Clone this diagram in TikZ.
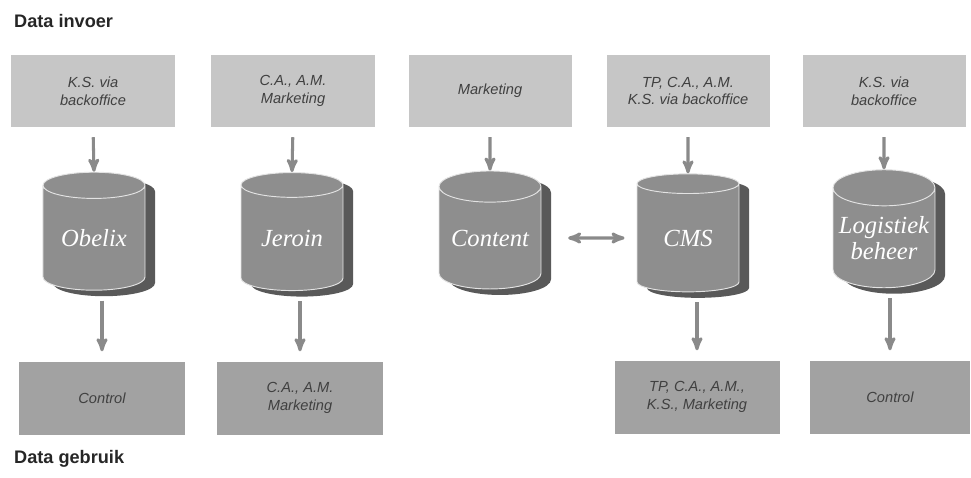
\documentclass[tikz,border=0pt]{standalone}
\usepackage{fontspec}
\setmainfont{Liberation Serif}
\setsansfont{Liberation Sans}
\usetikzlibrary{shapes.geometric}
\usetikzlibrary{shadows}
\usetikzlibrary{arrows}
\usetikzlibrary{calc}

\definecolor{inbox}{HTML}{C6C6C6}
\definecolor{outbox}{HTML}{A2A2A2}
\definecolor{dbgray}{HTML}{8E8E8E}
\definecolor{flowgray}{HTML}{8A8A8A}

\tikzset{
    source/.style={rectangle,fill=inbox,minimum width=4.89cm,minimum height=2.16cm,
        align=center,font=\sffamily\itshape\fontsize{12.5}{15}\selectfont,text=black!75},
    target/.style={rectangle,fill=outbox,minimum width=4.95cm,minimum height=2.19cm,
        align=center,font=\sffamily\itshape\fontsize{12.5}{15}\selectfont,text=black!75},
    store/.style={cylinder,shape border rotate=90,aspect=0.4,inner sep=0pt,
        minimum width=3.06cm,minimum height=3.54cm,
        fill=dbgray,draw=white!75!dbgray,line width=0.8pt,
        drop shadow={shadow xshift=0.3cm,shadow yshift=-0.18cm,opacity=1,fill=black!65},
        align=center,font=\itshape\fontsize{21}{22}\selectfont,text=white},
    flow/.style={->,>=stealth',line width=2.6pt,draw=flowgray},
    heading/.style={anchor=west,font=\sffamily\bfseries\fontsize{15.5}{18}\selectfont,text=black!85}
}

\begin{document}
\begin{tikzpicture}[x=0.03cm,y=-0.03cm]
    \useasboundingbox (0,0) rectangle (971,478);

    \node[heading] (invoer) at (10,21) {Data invoer};
    \node[heading] (gebruik) at (10,459) {Data gebruik};

    % bronnen
    \node[source] (in1) at (93,91) {K.S. via\\backoffice};
    \node[source] (in2) at (293,91) {C.A., A.M.\\Marketing};
    \node[source] (in3) at (490,91) {Marketing};
    \node[source] (in4) at (688,91) {TP, C.A., A.M.\\K.S. via backoffice};
    \node[source] (in5) at (884,91) {K.S. via\\backoffice};

    % databases
    \node[store] (db1) at (94,238) {Obelix};
    \node[store] (db2) at (292,238) {Jeroin};
    \node[store] (db3) at (490,238) {Content};
    \node[store] (db4) at (688,238) {CMS};
    \node[store] (db5) at (884,238) {Logistiek\\beheer};

    % afnemers
    \node[target] (out1) at (102,398) {Control};
    \node[target] (out2) at (300,398) {C.A., A.M.\\Marketing};
    \node[target] (out4) at (697,397) {TP, C.A., A.M.,\\K.S., Marketing};
    \node[target,minimum width=4.8cm] (out5) at (890,397) {Control};

    \foreach \i in {1,...,5}
        \draw[flow,shorten <=0.3cm] (in\i.south) -- (db\i.north);
    \foreach \i in {1,2,4,5}
        \draw[flow,shorten <=0.3cm,shorten >=0.3cm] (out\i |- db\i.south) -- (out\i.north);

    \draw[flow,<->,shorten <=0.8cm,shorten >=0.36cm] (db3.east) -- (db4.west);
\end{tikzpicture}
\end{document}
